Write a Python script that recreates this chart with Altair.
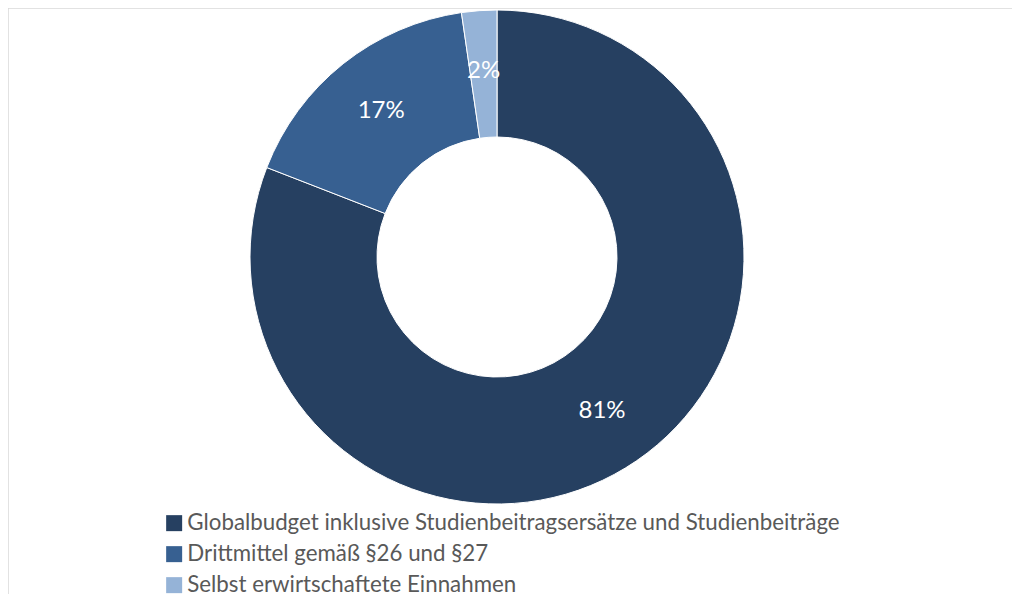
import altair as alt
import pandas as pd

categories = [
    "Globalbudget inklusive Studienbeitragsersätze und Studienbeiträge",
    "Drittmittel gemäß §26 und §27",
    "Selbst erwirtschaftete Einnahmen",
]
values = [80.9, 16.8, 2.3]
labels = ["81%", "17%", "2%"]
colors = ["#264061", "#376091", "#95b3d7"]

df = pd.DataFrame({
    "category": categories,
    "value": values,
    "label": labels,
    "order": list(range(len(categories))),
})

W, H = 1004, 586
CX, CY = 489, 249

base = alt.Chart(df).encode(
    theta=alt.Theta("value:Q", stack=True),
    order=alt.Order("order:Q"),
    x=alt.value(CX),
    y=alt.value(CY),
)

arc = base.mark_arc(outerRadius=247, innerRadius=120, stroke="white", strokeWidth=1).encode(
    color=alt.Color(
        "category:N",
        sort=categories,
        scale=alt.Scale(domain=categories, range=colors),
        legend=alt.Legend(
            title=None,
            orient="none",
            legendX=155,
            legendY=504,
            symbolType="square",
            symbolSize=256,
            symbolStrokeWidth=0,
            labelFont="Lato",
            labelFontSize=22.3,
            labelColor="#595959",
            labelLimit=900,
            rowPadding=8,
            labelOffset=2,
            padding=0,
        ),
    )
)

text = base.mark_text(radius=186, fontSize=24, font="Lato", color="white").encode(
    text="label:N"
)

frame_data = alt.Data(values=[{"a": 1}])
top_line = alt.Chart(frame_data).mark_rule(color="#d9d9d9", strokeWidth=1.5).encode(
    x=alt.value(0), x2=alt.value(W), y=alt.value(0)
)
left_line = alt.Chart(frame_data).mark_rule(color="#d9d9d9", strokeWidth=1.5).encode(
    x=alt.value(0), y=alt.value(0), y2=alt.value(H)
)

chart = alt.layer(arc, text, top_line, left_line).properties(
    width=W, height=H, padding=0, autosize=alt.AutoSizeParams(type="none")
).configure_view(stroke=None)

chart.save("out.html", embed_options={"renderer": "svg", "actions": False})
